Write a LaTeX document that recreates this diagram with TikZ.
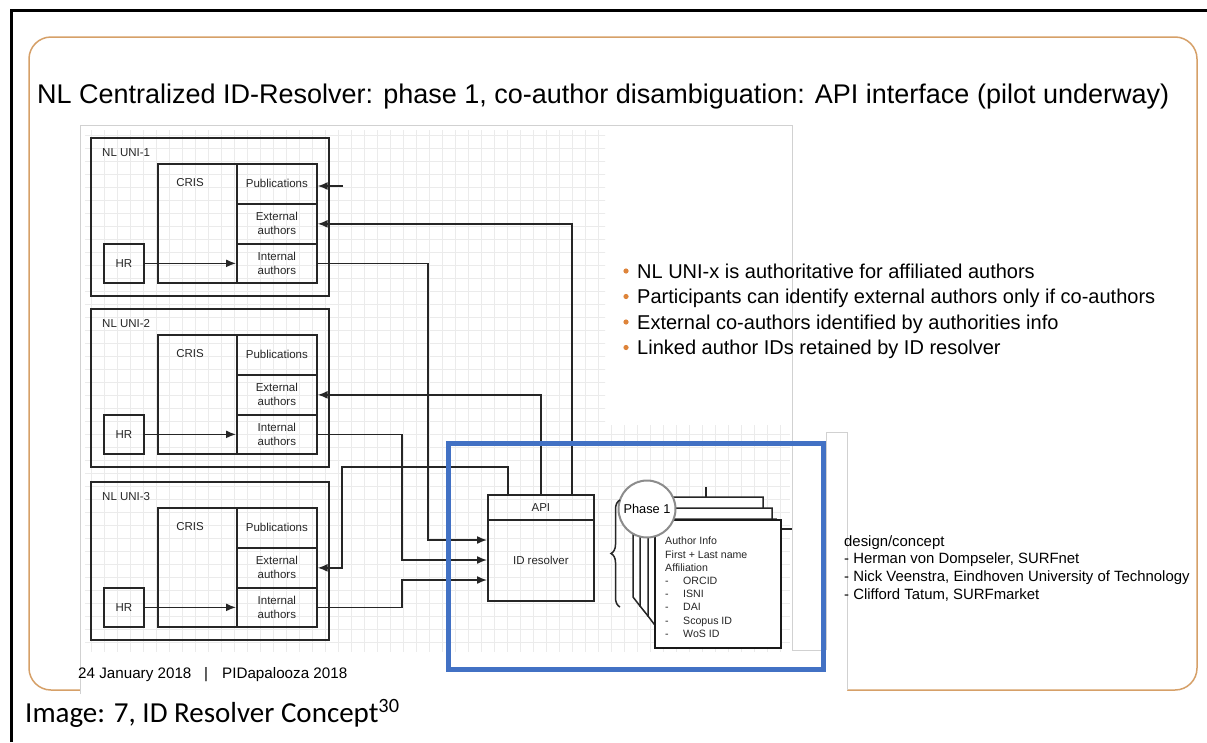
\documentclass[tikz,border=0pt]{standalone}
\usepackage{fontspec}
\setmainfont{Liberation Sans}
\newfontfamily\capfont{Carlito}
\usetikzlibrary{positioning,calc,arrows.meta,decorations.pathreplacing}
\definecolor{slideorange}{RGB}{214,160,104}
\definecolor{bulletorange}{RGB}{222,132,58}
\definecolor{resolverblue}{RGB}{66,113,196}

\begin{document}
\begin{tikzpicture}[x=1pt,y=-1pt,
box/.style={rectangle, draw=black!85, line width=1.7pt, inner sep=0pt, text=black!85, font=\fontsize{11.5}{14}\selectfont, align=center},
label text/.style={inner sep=0pt, text=black!85, font=\fontsize{11.5}{14}\selectfont},
conn/.style={draw=black!85, line width=1.5pt},
arr/.style={conn, -{Latex[length=10pt,width=8pt]}},
gridline/.style={black!8, line width=0.7pt},
border/.style={black!18, line width=1pt},
bullet text/.style={anchor=base west, inner sep=0pt, font=\fontsize{20}{24}\selectfont}
]
\useasboundingbox (0,0) rectangle (1207,742);
\fill[white] (0,0) rectangle (1207,742);

% frame and slide
\draw[line width=3pt] (11,742) -- (11,10) -- (1207,10);
\draw[slideorange, line width=1.5pt, rounded corners=22pt] (29,37) rectangle (1197,690);
\fill[white] (80,125) -- (792,125) -- (792,432) -- (847,432) -- (847,694) -- (80,694) -- cycle;

% grid of the pasted diagram
\begin{scope}
\clip (85,130) -- (605,130) -- (605,425) -- (790,425) -- (790,652) -- (85,652) -- cycle;
\foreach \gx in {91,104,...,790} \draw[gridline] (\gx,130) -- (\gx,652);
\foreach \gy in {135,148,...,652} \draw[gridline] (85,\gy) -- (790,\gy);
\end{scope}
\draw[border] (80,694) -- (80,125) -- (792,125) -- (792,650) -- (826,650);
\draw[border] (826,650) -- (826,432) -- (847,432) -- (847,690);

\node[anchor=base west, inner sep=0pt, font=\fontsize{27}{32}\selectfont] (title) at (37,103)
  {NL Centralized ID-Resolver: phase 1, co-author disambiguation: API interface (pilot underway)};

% universities
\foreach \i/\y in {1/137,2/308,3/481}{
  \node[box, minimum width=238pt, minimum height=158pt, anchor=north west] (uni\i) at (90,\y) {};
  \node[label text, anchor=base west] (unilabel\i) at (102,\y+19) {NL UNI-\i};
  \node[box, minimum width=79pt, minimum height=119pt, anchor=north west] (cris\i) at (157,\y+26) {};
  \node[label text] (crislabel\i) at (190,\y+46) {CRIS};
  \node[box, minimum width=80pt, minimum height=40pt, anchor=north west] (pub\i) at (236,\y+26) {Publications};
  \node[box, minimum width=80pt, minimum height=40pt, anchor=north west] (ext\i) at (236,\y+66) {External\\authors};
  \node[box, minimum width=80pt, minimum height=39pt, anchor=north west] (int\i) at (236,\y+106) {Internal\\authors};
  \node[box, minimum width=40pt, minimum height=39pt, anchor=north west] (hr\i) at (103,\y+106) {HR};
  \draw[arr] (hr\i) -- (int\i);
}

% resolver
\node[box, minimum width=106pt, minimum height=25pt, anchor=north west] (apihead) at (487,494) {API};
\node[box, minimum width=106pt, minimum height=81pt, anchor=north west] (idres) at (487,519) {ID resolver};

\coordinate (pubfeed) at (343,186);
\draw[arr] (pubfeed) -- (pubfeed -| pub1.east);
\draw[arr] ([xshift=31pt]apihead.north) |- (ext1.east);
\draw[arr] (apihead.north) |- (ext2.east);
\coordinate (extbend) at (342,467);
\draw[arr] ([xshift=-33pt]apihead.north) |- (extbend) |- (ext3.east);
\coordinate (riserA) at (428,540);
\coordinate (riserB) at (402,560);
\coordinate (riserC) at (402,580);
\draw[arr] (int1.east) -| (riserA) -- (riserA -| idres.west);
\draw[arr] (int2.east) -| (riserB) -- (riserB -| idres.west);
\draw[arr] (int3.east) -| (riserC) -- (riserC -| idres.west);

\draw[resolverblue, line width=5pt] (448,443) rectangle (823,669);

% phase 1 stack
\draw[conn] (706,487) -- (706,497);
\filldraw[conn, fill=white] (633,497) -- (763,497) -- (763,606) -- (640,606) -- (633,597) -- cycle;
\filldraw[conn, fill=white] (640,508) -- (772,508) -- (772,616) -- (648,616) -- (640,606) -- cycle;
\filldraw[conn, fill=white] (648,519) -- (776,519) -- (776,624) -- (654,624) -- (648,616) -- cycle;
\node[draw=black!90, line width=1.8pt, fill=white, minimum width=126pt, minimum height=128pt, anchor=north west] (page) at (654,519) {};
\draw[conn] (page.east |- 0,529) -- ++(10,0);
\node[anchor=north west, align=left, inner sep=0pt, text=black!85, font=\fontsize{10.6}{13.2}\selectfont] (pageinfo) at (665,537)
  {Author Info\\First + Last name\\Affiliation\\\makebox[18pt][l]{-}ORCID\\\makebox[18pt][l]{-}ISNI\\\makebox[18pt][l]{-}DAI\\\makebox[18pt][l]{-}Scopus ID\\\makebox[18pt][l]{-}WoS ID};
\node[circle, draw=black!45, line width=2pt, fill=white, minimum size=57pt, inner sep=0pt, font=\fontsize{12.8}{15}\selectfont] (phase) at (647,509) {Phase 1};
\draw[conn, decorate, decoration={brace, amplitude=9pt}] (620,607) -- (620,500);

% statements
\foreach \t [count=\k] in {NL UNI-x is authoritative for affiliated authors,
  Participants can identify external authors only if co-authors,
  External co-authors identified by authorities info,
  Linked author IDs retained by ID resolver}{
  \fill[bulletorange] (626,{278+25.5*(\k-1)-7}) circle (2.6);
  \node[bullet text] (bullet\k) at (637,{278+25.5*(\k-1)}) {\t};
}

\node[anchor=north west, align=left, inner sep=0pt, font=\fontsize{14.9}{17.7}\selectfont] (credits) at (844,535)
  {design/concept\\- Herman von Dompseler, SURFnet\\- Nick Veenstra, Eindhoven University of Technology\\- Clifford Tatum, SURFmarket};

% footer and caption
\node[anchor=base west, inner sep=0pt, font=\fontsize{15.2}{18}\selectfont] (datefoot) at (78,678) {24 January 2018};
\node[anchor=base, inner sep=0pt, font=\fontsize{15.2}{18}\selectfont] (sepfoot) at (206,678) {|};
\node[anchor=base west, inner sep=0pt, font=\fontsize{15.2}{18}\selectfont] (eventfoot) at (222,678) {PIDapalooza 2018};
\node[anchor=base west, inner sep=0pt, font=\capfont\fontsize{29}{34}\selectfont] (caption) at (25,722) {Image: 7, ID Resolver Concept\textsuperscript{30}};
\end{tikzpicture}
\end{document}
